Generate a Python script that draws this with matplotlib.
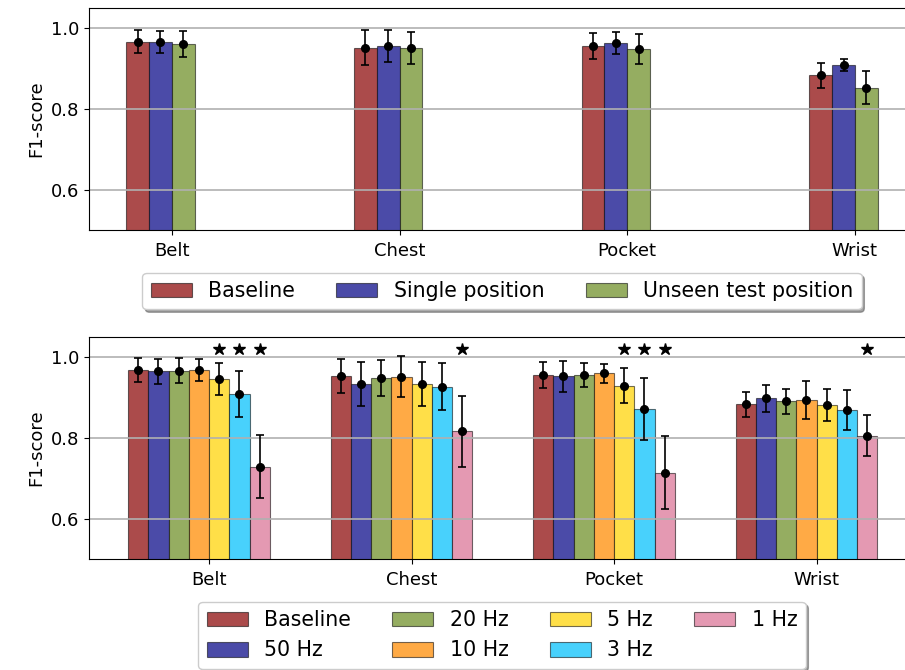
import numpy as np
import matplotlib
matplotlib.use("Agg")
import matplotlib.pyplot as plt

# Positionen
positions = ["Belt", "Chest", "Pocket", "Wrist"]

# oberes Diagramm: Trainingsvarianten
top_labels = ["Baseline", "Single position", "Unseen test position"]
top_mean = [
    [0.967, 0.952, 0.956, 0.883],   # Baseline
    [0.966, 0.956, 0.963, 0.908],   # Single position
    [0.960, 0.951, 0.948, 0.853],   # Unseen test position
]
top_err = [
    [0.029, 0.043, 0.032, 0.031],
    [0.027, 0.040, 0.028, 0.015],
    [0.032, 0.040, 0.037, 0.041],
]

# unteres Diagramm: Abtastraten
bot_labels = ["Baseline", "50 Hz", "20 Hz", "10 Hz", "5 Hz", "3 Hz", "1 Hz"]
bot_mean = [
    [0.968, 0.953, 0.956, 0.883],   # Baseline
    [0.965, 0.934, 0.953, 0.898],   # 50 Hz
    [0.967, 0.948, 0.956, 0.891],   # 20 Hz
    [0.968, 0.952, 0.960, 0.893],   # 10 Hz
    [0.946, 0.934, 0.930, 0.882],   # 5 Hz
    [0.908, 0.927, 0.872, 0.869],   # 3 Hz
    [0.729, 0.817, 0.714, 0.806],   # 1 Hz
]
bot_err = [
    [0.029, 0.042, 0.031, 0.032],
    [0.031, 0.055, 0.038, 0.033],
    [0.031, 0.044, 0.030, 0.031],
    [0.028, 0.050, 0.024, 0.047],
    [0.039, 0.055, 0.044, 0.039],
    [0.057, 0.058, 0.077, 0.049],
    [0.078, 0.088, 0.090, 0.050],
]
# signifikante Unterschiede (Stern) : (Rate-Index, Positions-Index)
stars = [(4, 0), (5, 0), (6, 0), (6, 1), (4, 2), (5, 2), (6, 2), (6, 3)]
star_y = 1.021

colors = ["#ab4b4b", "#4b4ba8", "#95ad61", "#ffaa45", "#ffdf48", "#48d1fc", "#e499b2"]

plt.rcParams["font.family"] = "DejaVu Sans"
plt.rcParams["font.size"] = 13

fig = plt.figure(figsize=(9.05, 6.7), dpi=100)
W, H = 905.0, 670.0
ax1 = fig.add_axes([89 / W, (H - 230) / H, 826 / W, 222 / H])
ax2 = fig.add_axes([89 / W, (H - 559.3) / H, 826 / W, 222.3 / H])

x = np.arange(len(positions))
w = 0.1

# oben
for i, lab in enumerate(top_labels):
    xs = x + (i - 1.5) * w
    ax1.bar(xs, top_mean[i], w, color=colors[i], edgecolor=(0, 0, 0, 0.55),
            linewidth=0.8, label=lab)
    ax1.errorbar(xs, top_mean[i], yerr=top_err[i], fmt="o", color="k",
                 markersize=5.5, capsize=3, elinewidth=1.2, capthick=1.2)

# unten
for i, lab in enumerate(bot_labels):
    xs = x + (i - 3.5) * w
    ax2.bar(xs, bot_mean[i], w, color=colors[i], edgecolor=(0, 0, 0, 0.55),
            linewidth=0.8, label=lab)
    ax2.errorbar(xs, bot_mean[i], yerr=bot_err[i], fmt="o", color="k",
                 markersize=5.5, capsize=3, elinewidth=1.2, capthick=1.2)

sx = [x[p] + (r - 3.5) * w for r, p in stars]
ax2.plot(sx, [star_y] * len(sx), "*", color="k", markersize=9, linestyle="none")

for ax in (ax1, ax2):
    ax.set_ylim(0.5, 1.05)
    ax.set_yticks([0.6, 0.8, 1.0])
    ax.set_xticks(x)
    ax.set_xticklabels(positions)
    ax.set_ylabel("F1-score")
    ax.yaxis.grid(True, color="#b0b0b0", linewidth=1.2)
    ax.tick_params(axis="x", pad=5)

ax1.set_xlim(-0.364, 3.264)
ax2.set_xlim(-0.593, 3.486)

cx = 502 / W
ax1.legend(loc="upper center", bbox_to_anchor=(cx, 1 - 273 / H),
           bbox_transform=fig.transFigure, borderaxespad=0, ncol=3,
           shadow=True, fontsize=14.8)
ax2.legend(loc="upper center", bbox_to_anchor=(cx, 1 - 602 / H),
           bbox_transform=fig.transFigure, borderaxespad=0, ncol=4,
           shadow=True, fontsize=14.8)

fig.savefig("out.png", dpi=100)
